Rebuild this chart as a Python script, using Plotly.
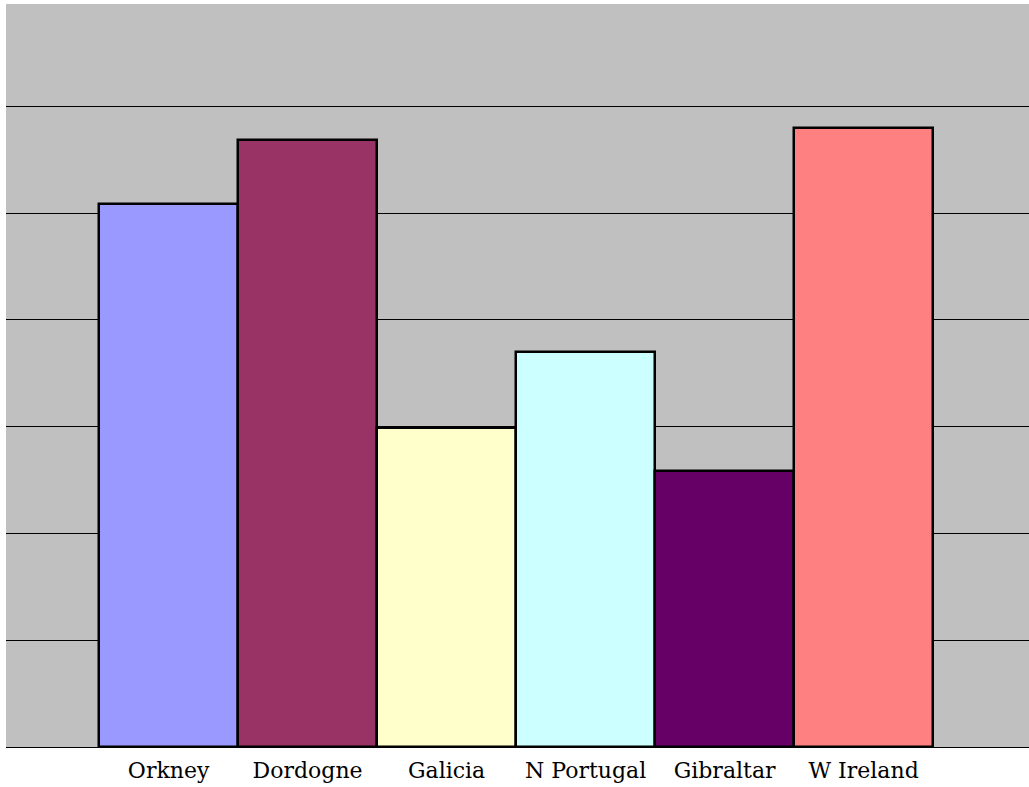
import plotly.graph_objects as go

categories = ["Orkney", "Dordogne", "Galicia", "N Portugal", "Gibraltar", "W Ireland"]
values = [5.09, 5.69, 2.99, 3.70, 2.59, 5.80]
colors = ["#9999FF", "#993366", "#FFFFCC", "#CCFFFF", "#660066", "#FF8080"]

fig = go.Figure(
    go.Bar(
        x=categories,
        y=values,
        marker=dict(color=colors, line=dict(color="black", width=2.5)),
        width=1.0,
        hoverinfo="skip",
    )
)

fig.update_layout(
    width=1029,
    height=787,
    margin=dict(l=6, r=0, t=4, b=40),
    paper_bgcolor="white",
    plot_bgcolor="#C0C0C0",
    showlegend=False,
    bargap=0,
    xaxis=dict(
        type="category",
        range=[-1.17, 6.19],
        showgrid=False,
        showline=True,
        linecolor="black",
        linewidth=1,
        ticks="",
        ticklabelstandoff=4,
        tickfont=dict(family="DejaVu Serif", size=22, color="black"),
    ),
    yaxis=dict(
        range=[0, 6.96],
        dtick=1,
        showgrid=True,
        gridcolor="black",
        gridwidth=1,
        showticklabels=False,
        zeroline=False,
        ticks="",
    ),
)

fig.write_html(
    "out.html",
    config={"displayModeBar": False},
    post_script="document.body.style.margin='0px';document.body.style.overflow='hidden';",
)
